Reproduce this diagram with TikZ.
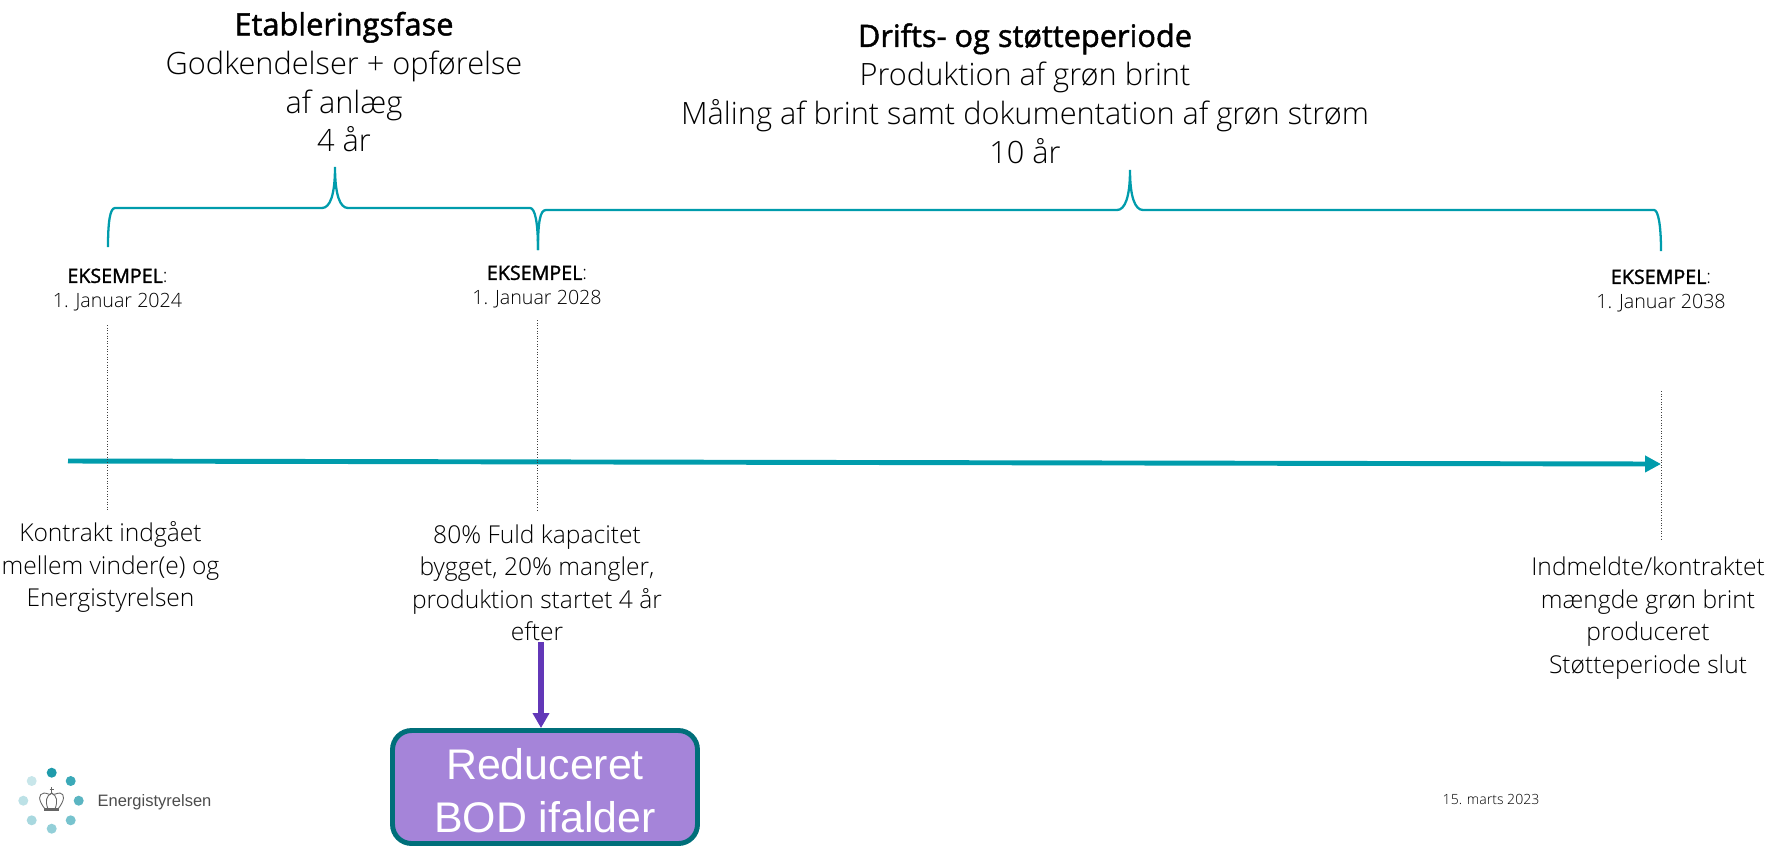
\documentclass[tikz,border=0pt]{standalone}
\usepackage{fontspec}
\setmainfont{Open Sans Light}[BoldFont={Open Sans},BoldFeatures={FakeBold=1.5}]
\newfontfamily\arialfont{Liberation Sans}
\usetikzlibrary{arrows.meta}
\definecolor{tealline}{HTML}{009CAC}
\definecolor{boxfill}{HTML}{A584D9}
\definecolor{boxline}{HTML}{006F7A}
\definecolor{bodarrow}{HTML}{6237B8}

\begin{document}
\begin{tikzpicture}[x=0.02cm,y=-0.02cm,
  head node/.style={align=center,font=\fontsize{17.5}{22.1}\selectfont},
  date node/.style={align=center,font=\fontsize{11.2}{14.2}\selectfont},
  note node/.style={align=center,font=\fontsize{14}{18.5}\selectfont},
  brace line/.style={draw=tealline,line width=1.3pt},
  mark line/.style={densely dotted,line width=0.5pt,draw=black!75},
  logo dot/.style={circle,inner sep=0pt,minimum size=0.2cm}]

  \useasboundingbox (0,0) rectangle (1777,846);

  % headings
  \node[head node] (fase) at (344,82) {\textbf{Etableringsfase}\\Godkendelser + opførelse\\af anlæg\\4 år};
  \node[head node] (drift) at (1025,93.5) {\textbf{Drifts- og støtteperiode}\\Produktion af grøn brint\\Måling af brint samt dokumentation af grøn strøm\\10 år};

  % dates
  \node[date node] (d1) at (117.5,290) {\textbf{EKSEMPEL}:\\1. Januar 2024};
  \node[date node] (d2) at (537,287) {\textbf{EKSEMPEL}:\\1. Januar 2028};
  \node[date node] (d3) at (1661,291) {\textbf{EKSEMPEL}:\\1. Januar 2038};

  % braces
  \draw[brace line] (108,247) .. controls (108,222) and (110,208) .. (115,208) -- (322,208)
    .. controls (330,208) and (335,195) .. (335,167) .. controls (335,195) and (340,208) .. (348,208)
    -- (530,208) .. controls (535,208) and (538,222) .. (538,250);
  \draw[brace line] (538,250) .. controls (538,222) and (540,210) .. (546,210) -- (1117,210)
    .. controls (1125,210) and (1130,197) .. (1130,170) .. controls (1130,197) and (1135,210) .. (1143,210)
    -- (1654,210) .. controls (1658,210) and (1661,224) .. (1661,251);

  % time line
  \coordinate (start) at (68,461);
  \coordinate (end) at (1661,464);
  \draw[draw=tealline,line width=2.8pt,-{Triangle[length=0.32cm,width=0.32cm]}] (start) -- (end);

  % dotted marks
  \draw[mark line] (107.5,325) -- (107.5,510);
  \draw[mark line] (537,320) -- (537,510);
  \draw[mark line] (1661,391) -- (1661,541);

  % notes
  \node[note node] (n1) at (110.5,567) {Kontrakt indgået\\mellem vinder(e) og\\Energistyrelsen};
  \node[note node] (n2) at (537,583) {80\% Fuld kapacitet\\bygget, 20\% mangler,\\produktion startet 4 år\\efter};
  \node[note node] (n3) at (1648,618) {Indmeldte/kontraktet\\mængde grøn brint\\produceret\\Støtteperiode slut};

  % box
  \node[draw=boxline,fill=boxfill,line width=2.8pt,rounded corners=0.38cm,text=white,
    minimum width=6.1cm,minimum height=2.26cm,align=center,
    font=\arialfont\fontsize{24.4}{30}\selectfont] (bod) at (545,787) {\rule{0pt}{21.5pt}Reduceret\\BOD ifalder};
  \coordinate (efter) at (541,642);
  \draw[draw=bodarrow,line width=3pt,-{Triangle[length=0.3cm,width=0.32cm]}] (efter) -- (bod.north -| efter);

  % logo
  \foreach \px/\py/\shade [count=\i] in {51.7/772.7/1F9BAB,70.7/781/3BA9B8,78.7/800.7/5BB5C2,70.7/820.3/77C3CE,
      51.7/828.7/93CFD8,31.7/820.3/A8D8DF,23.3/800.7/BCE1E6,31.7/781/C8E6EA}{
    \definecolor{dotcol}{HTML}{\shade}
    \node[logo dot,fill=dotcol] (dot\i) at (\px,\py) {};
  }
  \draw[black!60,line width=0.5pt] (45,809) .. controls (38,800) and (38,794) .. (44,793) .. controls (48,793) and (50,796) .. (51.7,793)
    .. controls (53.5,796) and (56,793) .. (60,793) .. controls (65,794) and (65,800) .. (58,809);
  \draw[black!60,line width=0.5pt] (48,809) .. controls (45,801) and (46,796) .. (51.7,793) .. controls (57,796) and (58,801) .. (55,809);
  \draw[black!60,line width=0.5pt] (51.7,787) -- (51.7,793) (49.5,789) -- (54,789);
  \draw[black!60,line width=1.2pt] (44,809.5) -- (59,809.5);
  \node[font=\arialfont\fontsize{9.4}{11}\selectfont,text=black!70] (logotext) at (154.5,802) {Energistyrelsen};
  \node[font=\fontsize{8}{9}\selectfont] (dato) at (1491,799) {15. marts 2023};
\end{tikzpicture}
\end{document}
